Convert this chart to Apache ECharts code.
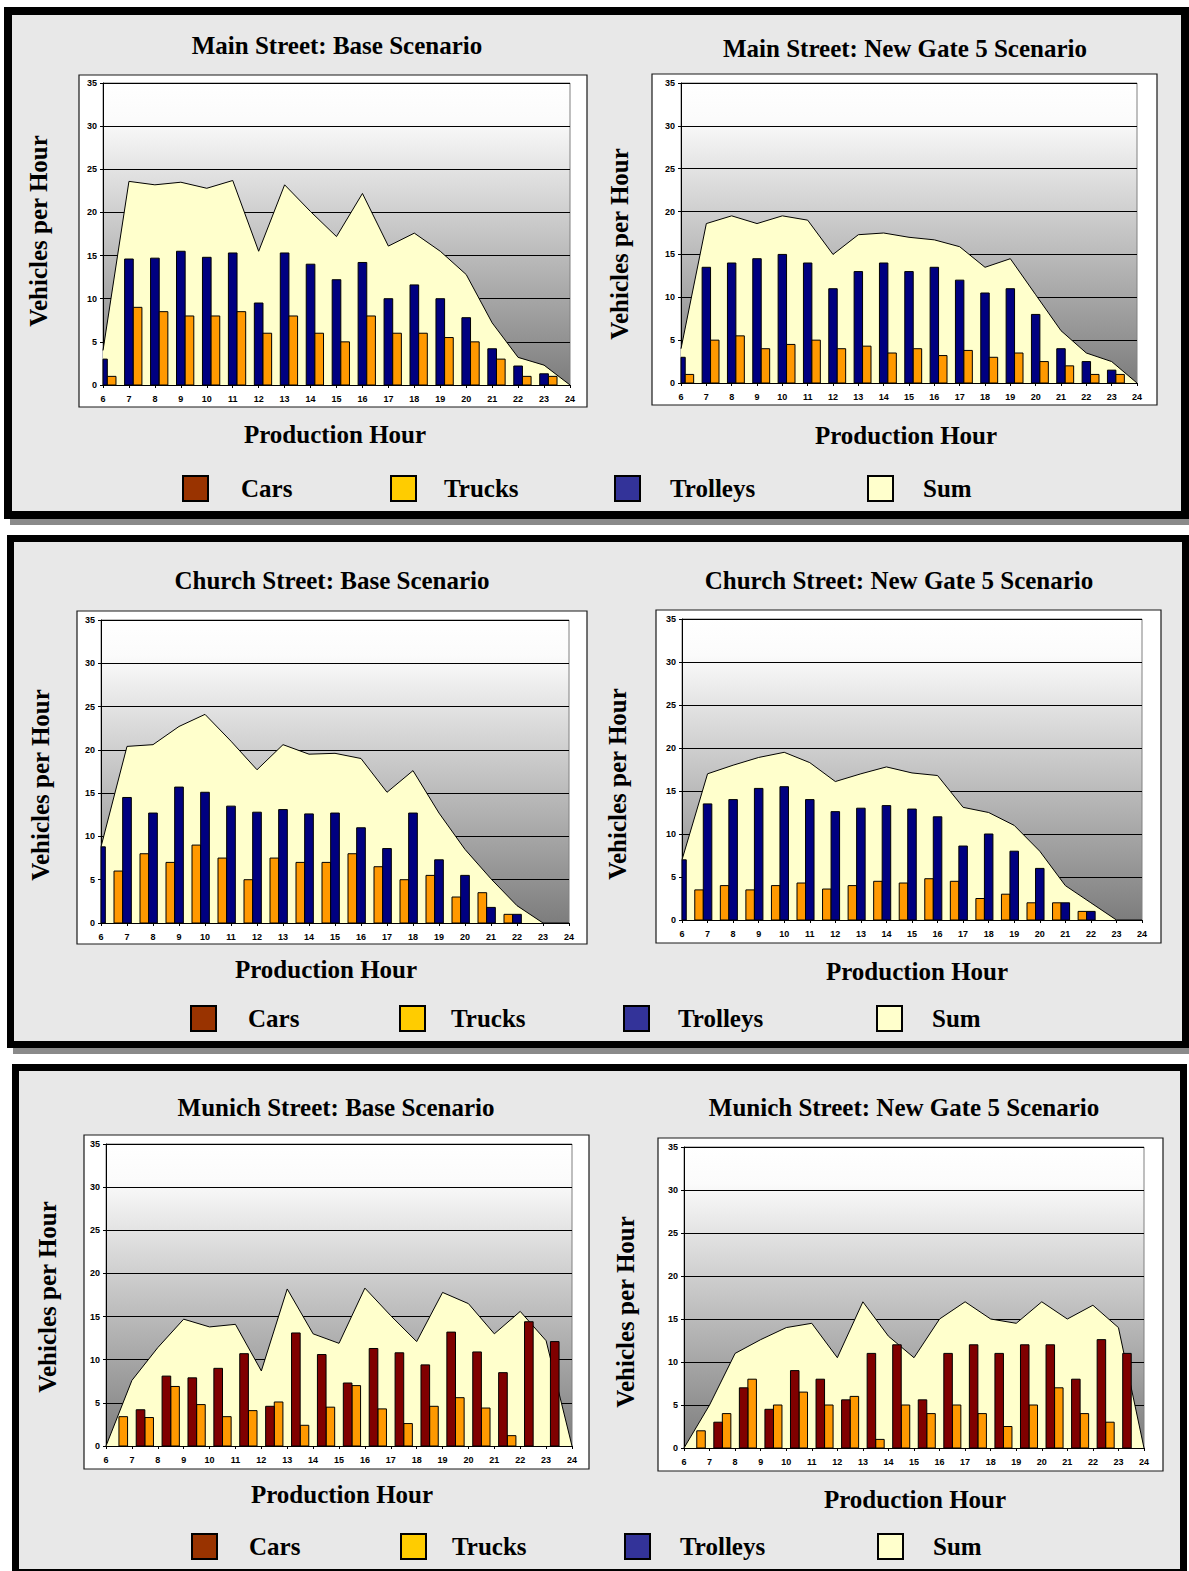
<!DOCTYPE html>
<html>
<head>
<meta charset="utf-8">
<script src="https://cdn.jsdelivr.net/npm/echarts/dist/echarts.min.js"></script>
<style>
html,body{margin:0;padding:0;background:#fff;}
#chart{width:1189px;height:1571px;}
</style>
</head>
<body>
<div id="chart"></div>
<script>
// ---------- DATA ----------
const hours = ['6','7','8','9','10','11','12','13','14','15','16','17','18','19','20','21','22','23','24'];

const mainBaseCars      = [0,0,0,0,0,0,0,0,0,0,0,0,0,0,0,0,0,0,0];
const mainBaseTrucks    = [1,9,8.5,8,8,8.5,6,8,6,5,8,6,6,5.5,5,3,1,1,0];
const mainBaseTrolleys  = [3,14.6,14.7,15.5,14.8,15.3,9.5,15.3,14,12.2,14.2,10,11.6,10,7.8,4.2,2.2,1.3,0];
const mainBaseSum       = [4,23.6,23.2,23.5,22.8,23.7,15.5,23.2,20.1,17.2,22.2,16.1,17.6,15.5,12.8,7.2,3.2,2.3,0];

const mainNewCars       = [0,0,0,0,0,0,0,0,0,0,0,0,0,0,0,0,0,0,0];
const mainNewTrucks     = [1,5,5.5,4,4.5,5,4,4.3,3.5,4,3.2,3.8,3,3.5,2.5,2,1,1,0];
const mainNewTrolleys   = [3,13.5,14,14.5,15,14,11,13,14,13,13.5,12,10.5,11,8,4,2.5,1.5,0];
const mainNewSum        = [4,18.6,19.5,18.6,19.5,19,15,17.3,17.5,17,16.7,15.9,13.5,14.5,10.3,6.1,3.5,2.5,0];

const churchBaseCars     = [0,0,0,0,0,0,0,0,0,0,0,0,0,0,0,0,0,0,0];
const churchBaseTrucks   = [0,6,8,7,9,7.5,5,7.5,7,7,8,6.5,5,5.5,3,3.5,1,0,0];
const churchBaseTrolleys = [8.8,14.5,12.7,15.7,15.1,13.5,12.8,13.1,12.6,12.7,11,8.6,12.7,7.3,5.5,1.8,1,0,0];
const churchBaseSum      = [8.8,20.4,20.6,22.7,24.1,21,17.7,20.6,19.5,19.6,19,15.1,17.6,12.7,8.5,5.1,2,0,0];

const churchNewCars      = [0,0,0,0,0,0,0,0,0,0,0,0,0,0,0,0,0,0,0];
const churchNewTrucks    = [0,3.5,4,3.5,4,4.3,3.6,4,4.5,4.3,4.8,4.5,2.5,3,2,2,1,0,0];
const churchNewTrolleys  = [7,13.5,14,15.3,15.5,14,12.6,13,13.3,12.9,12,8.6,10,8,6,2,1,0,0];
const churchNewSum       = [7,17,18,18.9,19.5,18.3,16.1,17,17.8,17.1,16.8,13.1,12.5,11,8,4,2,0,0];

const munichBaseCars     = [0,4.2,8.1,7.9,9,10.7,4.6,13.1,10.6,7.3,11.3,10.8,9.4,13.2,10.9,8.5,14.4,12.1,0];
const munichBaseTrucks   = [0,3.4,3.3,6.9,4.8,3.4,4.1,5.1,2.4,4.5,7,4.3,2.6,4.6,5.6,4.4,1.2,0,0];
const munichBaseTrolleys = [0,0,0,0,0,0,0,0,0,0,0,0,0,0,0,0,0,0,0];
const munichBaseSum      = [0,7.6,11.4,14.7,13.8,14.1,8.7,18.2,13,11.9,18.3,15.1,12.1,17.8,16.5,13,15.6,12.2,0];

const munichNewCars      = [0,3,7,4.5,9,8,5.6,11,12,5.6,11,12,11,12,12,8,12.6,11,0];
const munichNewTrucks    = [0,2,4,8,5,6.5,5,6,1,5,4,5,4,2.5,5,7,4,3,0];
const munichNewTrolleys  = [0,0,0,0,0,0,0,0,0,0,0,0,0,0,0,0,0,0,0];
const munichNewSum       = [0,5,11,12.6,14,14.5,10.5,17,13,10.5,15,17,15,14.5,17,15,16.6,14,0];

const chartTitles = [
  'Main Street: Base Scenario', 'Main Street: New Gate 5 Scenario',
  'Church Street: Base Scenario', 'Church Street: New Gate 5 Scenario',
  'Munich Street: Base Scenario', 'Munich Street: New Gate 5 Scenario'
];
const yTitle = 'Vehicles per Hour';
const xTitle = 'Production Hour';
const legendNames = ['Cars', 'Trucks', 'Trolleys', 'Sum'];

// ---------- STYLE / LAYOUT ----------
const barColors = { Cars: '#800000', Trucks: '#FF9900', Trolleys: '#000080' };
const legendColors = { Cars: '#993300', Trucks: '#FFCC00', Trolleys: '#333399', Sum: '#FFFFCC' };
const serif = '"Liberation Serif", "Times New Roman", serif';
const sans = '"Liberation Sans", Arial, sans-serif';

const charts = [
  { grid: [103, 83, 467, 302], box: [79, 75, 508, 332], title: [337, 45], yT: [38, 231], xT: [335, 434],
    sum: mainBaseSum, bars: [['Cars', mainBaseCars], ['Trolleys', mainBaseTrolleys], ['Trucks', mainBaseTrucks]] },
  { grid: [681, 83, 456, 300], box: [652, 74, 505, 331], title: [905, 48], yT: [619, 244], xT: [906, 435],
    sum: mainNewSum, bars: [['Cars', mainNewCars], ['Trolleys', mainNewTrolleys], ['Trucks', mainNewTrucks]] },
  { grid: [101, 620, 468, 303], box: [77, 611, 510, 333], title: [332, 580], yT: [40, 785], xT: [326, 969],
    sum: churchBaseSum, bars: [['Trucks', churchBaseTrucks], ['Trolleys', churchBaseTrolleys], ['Cars', churchBaseCars]] },
  { grid: [682, 619, 460, 301], box: [656, 610, 505, 333], title: [899, 580], yT: [617, 784], xT: [917, 971],
    sum: churchNewSum, bars: [['Trucks', churchNewTrucks], ['Trolleys', churchNewTrolleys], ['Cars', churchNewCars]] },
  { grid: [106, 1144, 466, 302], box: [84, 1135, 505, 334], title: [336, 1107], yT: [47, 1297], xT: [342, 1494],
    sum: munichBaseSum, bars: [['Trucks', munichBaseTrucks], ['Trolleys', munichBaseTrolleys], ['Cars', munichBaseCars]] },
  { grid: [684, 1147, 460, 301], box: [658, 1138, 505, 333], title: [904, 1107], yT: [625, 1312], xT: [915, 1499],
    sum: munichNewSum, bars: [['Trucks', munichNewTrucks], ['Trolleys', munichNewTrolleys], ['Cars', munichNewCars]] }
];

// legend layout per panel: swatch top, then [swatchLeft, textLeft] per item
const legendLayout = [
  { top: 475,  items: [[182, 240], [390, 443], [614, 669], [867, 922]] },
  { top: 1005, items: [[190, 247], [399, 450], [623, 677], [876, 931]] },
  { top: 1533, items: [[191, 248], [400, 451], [624, 679], [877, 932]] }
];

// panel frames: outer x0, y0, x1, y1, border, shadow
const panelFrames = [
  [4, 7, 1189, 519, 8, true],
  [7, 535, 1189, 1048, 7, true],
  [12, 1064, 1187, 1576, 7, false]
];

const plotGradient = {
  type: 'linear', x: 0, y: 0, x2: 0, y2: 1,
  colorStops: [
    { offset: 0, color: '#ffffff' },
    { offset: 0.12, color: '#fbfbfb' },
    { offset: 1, color: '#7d7d7d' }
  ]
};

// clustered column renderer: the cluster of nSlots columns fills one hour band centred on the tick,
// and columns are clipped to the plot area (as in the original spreadsheet chart)
function clusteredBar(slot, nSlots) {
  return function (params, api) {
    const v = api.value(1);
    if (!v) return null;
    const idx = api.value(0);
    const base = api.coord([idx, 0]);
    const top = api.coord([idx, v]);
    const band = api.size([1, 0])[0];
    const w = band / nSlots;
    const cs = params.coordSys;
    const rect = echarts.graphic.clipRectByRect(
      { x: base[0] - band / 2 + slot * w, y: top[1], width: w, height: base[1] - top[1] },
      { x: cs.x, y: cs.y, width: cs.width, height: cs.height }
    );
    if (!rect) return null;
    return { type: 'rect', shape: rect, style: api.style() };
  };
}

const grids = [], xAxes = [], yAxes = [], series = [], graphics = [], legends = [];

panelFrames.forEach(([x0, y0, x1, y1, bw, shadow]) => {
  if (shadow) {
    graphics.push({ type: 'rect', z: -20, silent: true,
      shape: { x: x0 + 6, y: y0 + 6, width: x1 - x0, height: y1 - y0 },
      style: { fill: '#8a8a8a' } });
  }
  graphics.push({ type: 'rect', z: -19, silent: true,
    shape: { x: x0 + bw / 2, y: y0 + bw / 2, width: x1 - x0 - bw, height: y1 - y0 - bw },
    style: { fill: '#e8e8e8', stroke: '#000', lineWidth: bw } });
});

charts.forEach((c, i) => {
  graphics.push({ type: 'rect', z: -18, silent: true,
    shape: { x: c.box[0], y: c.box[1], width: c.box[2], height: c.box[3] },
    style: { fill: '#ffffff', stroke: '#1a1a1a', lineWidth: 1.2 } });
  graphics.push({ type: 'text', x: c.title[0], y: c.title[1], silent: true,
    style: { text: chartTitles[i], fontFamily: serif, fontWeight: 'bold', fontSize: 25, fill: '#000',
      align: 'center', verticalAlign: 'middle' } });
  graphics.push({ type: 'text', x: c.yT[0], y: c.yT[1], rotation: Math.PI / 2, silent: true,
    style: { text: yTitle, fontFamily: serif, fontWeight: 'bold', fontSize: 25, fill: '#000',
      align: 'center', verticalAlign: 'middle' } });
  graphics.push({ type: 'text', x: c.xT[0], y: c.xT[1], silent: true,
    style: { text: xTitle, fontFamily: serif, fontWeight: 'bold', fontSize: 25, fill: '#000',
      align: 'center', verticalAlign: 'middle' } });

  grids.push({ left: c.grid[0], top: c.grid[1], width: c.grid[2], height: c.grid[3],
    show: true, backgroundColor: plotGradient, borderColor: '#808080', borderWidth: 1 });

  xAxes.push({ gridIndex: i, type: 'category', data: hours, boundaryGap: false,
    axisLine: { show: true, onZero: false, lineStyle: { color: '#000', width: 1 } },
    axisTick: { show: true, length: 3, lineStyle: { color: '#000' } },
    axisLabel: { interval: 0, fontSize: 9, fontWeight: 'bold', fontFamily: sans, color: '#000', margin: 9 },
    splitLine: { show: false } });

  yAxes.push({ gridIndex: i, type: 'value', min: 0, max: 35, interval: 5,
    axisLine: { show: true, lineStyle: { color: '#000', width: 1 } },
    axisTick: { show: true, length: 3, lineStyle: { color: '#000' } },
    axisLabel: { fontSize: 9, fontWeight: 'bold', fontFamily: sans, color: '#000', margin: 6 },
    splitLine: { show: true, lineStyle: { color: '#000', width: 1 } } });

  series.push({ type: 'line', name: 'Sum', xAxisIndex: i, yAxisIndex: i, data: c.sum,
    symbol: 'none', silent: true, z: 2,
    lineStyle: { color: '#000', width: 1 },
    itemStyle: { color: '#FFFFCC' },
    areaStyle: { color: '#FFFFCC', opacity: 1 } });

  c.bars.forEach(([name, vals], slot) => {
    series.push({ type: 'custom', name: name, xAxisIndex: i, yAxisIndex: i,
      data: vals.map((v, k) => [k, v]),
      encode: { x: 0, y: 1 },
      renderItem: clusteredBar(slot, c.bars.length),
      silent: true, z: 4,
      itemStyle: { color: barColors[name], borderColor: '#000', borderWidth: 1 } });
  });
});

legendLayout.forEach(L => {
  L.items.forEach(([sx, tx], k) => {
    const name = legendNames[k];
    legends.push({
      left: sx, top: L.top, padding: 0, itemWidth: 25, itemHeight: 25, icon: 'rect',
      selectedMode: false, orient: 'horizontal',
      data: [{ name: name, itemStyle: { color: legendColors[name], borderColor: '#000', borderWidth: 2 } }],
      textStyle: { fontFamily: serif, fontWeight: 'bold', fontSize: 25, color: '#000',
        padding: [0, 0, 0, Math.max(0, tx - sx - 25 - 5)] }
    });
  });
});

const chart = echarts.init(document.getElementById('chart'), null, { renderer: 'svg', width: 1189, height: 1571 });
chart.setOption({
  animation: false,
  backgroundColor: '#ffffff',
  graphic: { elements: graphics },
  legend: legends,
  grid: grids,
  xAxis: xAxes,
  yAxis: yAxes,
  series: series
});
</script>
</body>
</html>
